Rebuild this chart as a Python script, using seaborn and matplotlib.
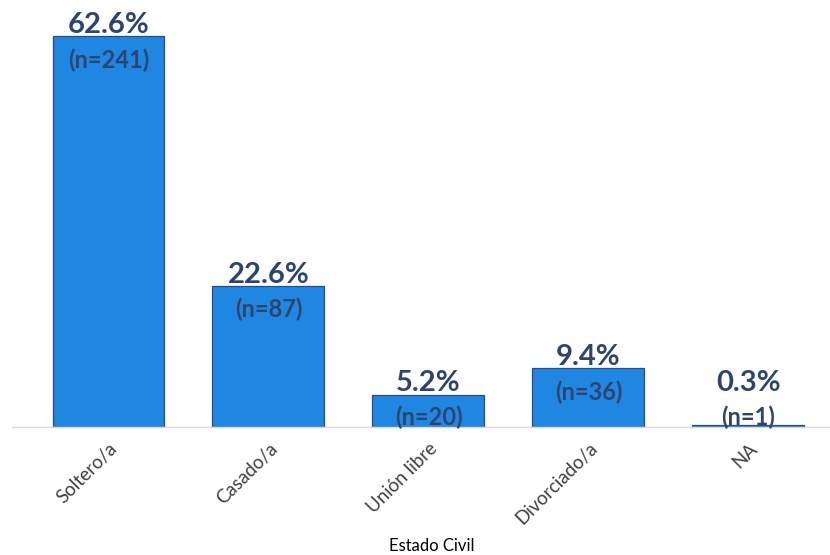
import matplotlib
matplotlib.use("Agg")
import matplotlib.pyplot as plt
import seaborn as sns
import pandas as pd

# data
categorias = ['Soltero/a', 'Casado/a', 'Unión libre', 'Divorciado/a', 'NA']
porcentajes = [62.6, 22.6, 5.2, 9.4, 0.3]
conteos = [241, 87, 20, 36, 1]

df = pd.DataFrame({'Estado Civil': categorias, 'pct': porcentajes, 'n': conteos})

sns.set_style('white')
plt.rcParams['font.family'] = ['Lato', 'DejaVu Sans']

fig = plt.figure(figsize=(8.3, 5.55), dpi=100)
ax = fig.add_axes([0.0145, 0.2306, 0.9855, 0.7694])

sns.barplot(data=df, x='Estado Civil', y='pct', color='#1F86E1', saturation=1,
            width=0.70, edgecolor='#2F4B7C', linewidth=0.9, ax=ax)

ax.set_xlim(-0.603, 4.51)
ax.set_ylim(0, 68.4)

label_color = '#2E4470'
for i, (p, n) in enumerate(zip(porcentajes, conteos)):
    # very small bars get their labels lifted so they stay readable
    y = max(p, 5.3)
    ax.annotate(f'{p}%', (i, y), xytext=(0, 8), textcoords='offset points',
                ha='center', va='center', fontsize=21, fontweight='bold', color=label_color)
    ax.annotate(f'(n={n})', (i, y), xytext=(0, -17), textcoords='offset points',
                ha='center', va='center', fontsize=17, fontweight='bold', color=label_color)

for s in ['top', 'right', 'left']:
    ax.spines[s].set_visible(False)
ax.spines['bottom'].set_color('#D9D9D9')
ax.spines['bottom'].set_linewidth(1)

ax.set_yticks([])
ax.set_ylabel('')
ax.set_xlabel('')
ax.tick_params(axis='x', length=0, pad=9)
plt.setp(ax.get_xticklabels(), rotation=45, ha='right', rotation_mode='anchor',
         fontsize=13.5, color='#404040')
fig.text(0.52, 0.017, 'Estado Civil', ha='center', va='center', fontsize=12, color='black')

fig.savefig('out.png', dpi=100)
